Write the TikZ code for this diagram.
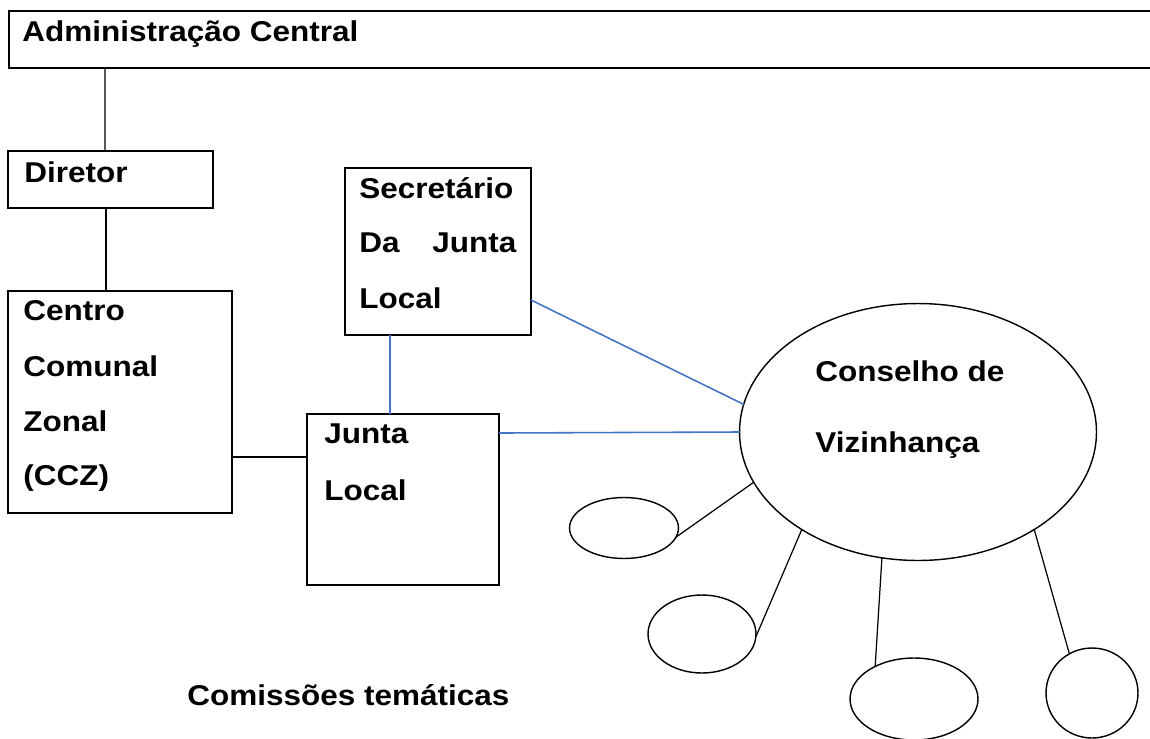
\documentclass[tikz,border=0pt]{standalone}
\usepackage{fontspec}
\setmainfont{Liberation Sans}[FakeStretch=1.1]
\usepackage{xcolor}
\usepackage{tikz}
\usetikzlibrary{shapes.geometric,fit,positioning}
\definecolor{linkblue}{HTML}{4472C4}

\begin{document}
\begin{tikzpicture}[x=0.02cm,y=-0.02cm,
  box/.style={draw,line width=1pt,inner sep=0pt,outer sep=0pt},
  oval/.style={draw,ellipse,line width=0.8pt,inner sep=0pt,outer sep=0pt},
  lbl/.style={anchor=base west,inner sep=0pt,font=\fontsize{16.3}{19}\selectfont\bfseries},
  line/.style={line width=0.7pt},
  link/.style={line width=0.9pt,linkblue}]
\useasboundingbox (0,0) rectangle (1150,738);
%\draw (0,0) grid (1150,738);
\node[box,fit={(9,11) (1160,68)}] (admin) {};
\node[box,fit={(8,151) (213,208)}] (dir) {};
\node[box,fit={(8,291) (232,513)}] (ccz) {};
\node[box,fit={(345,168) (531,335)}] (sec) {};
\node[box,fit={(307,414) (499,585)}] (junta) {};
\node[oval,minimum width=7.14cm,minimum height=5.14cm] (cons) at (918,432) {};
\node[oval,minimum width=2.18cm,minimum height=1.22cm] (com1) at (624,528) {};
\node[oval,minimum width=2.16cm,minimum height=1.56cm] (com2) at (702,634) {};
\node[oval,minimum width=2.56cm,minimum height=1.64cm] (com3) at (914,699) {};
\node[oval,minimum width=1.84cm,minimum height=1.8cm] (com4) at (1092,693) {};

\node[lbl] (admint) at (22,41) {Administração Central};
\node[lbl] (dirt) at (24,182) {Diretor};
\node[lbl] (cczt1) at (23,320) {Centro};
\node[lbl] (cczt2) at (23,376) {Comunal};
\node[lbl] (cczt3) at (23,431) {Zonal};
\node[lbl] (cczt4) at (23,485) {(CCZ)};
\node[lbl] (sect1) at (359,198) {Secretário};
\node[lbl] (sect2) at (359,252) {\makebox[3.14cm][s]{Da Junta}};
\node[lbl] (sect3) at (359,308) {Local};
\node[lbl] (juntat1) at (324,443) {Junta};
\node[lbl] (juntat2) at (324,500) {Local};
\node[lbl] (const1) at (815,381) {Conselho de};
\node[lbl] (const2) at (815,452) {Vizinhança};
\node[lbl] (comt) at (187,705) {Comissões temáticas};

\draw[line] ([xshift=1.92cm]admin.south west) -- ([xshift=1.94cm]dir.north west);
\draw[line] ([xshift=1.96cm]dir.south west) -- ([xshift=1.96cm]ccz.north west);
\draw[line] ([yshift=-3.32cm]ccz.north east) -- ([yshift=-3.32cm]ccz.north east -| junta.west);
\draw[link] ([xshift=0.9cm]sec.south west) -- ([xshift=0.9cm]sec.south west |- junta.north);
\draw[link] ([yshift=0.7cm]sec.south east) -- (cons.171);
\draw[link] ([yshift=1.33cm]junta.east) -- (cons.west);
\draw[line] (cons.197) -- (com1.350);
\draw[line] (cons.220) -- (com2.357);
\draw[line] (cons.254) -- (com3.140);
\draw[line] (cons.320) -- (com4.120);
\end{tikzpicture}
\end{document}
